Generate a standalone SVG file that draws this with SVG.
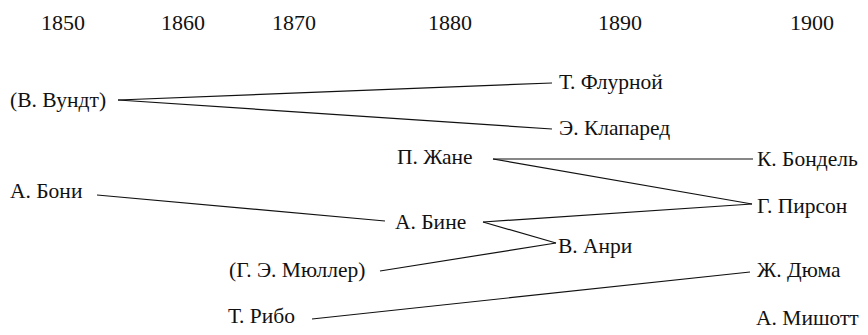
<svg xmlns="http://www.w3.org/2000/svg" width="868" height="335" viewBox="0 0 868 335">
  <style>
    text { font-family: "Liberation Serif", "DejaVu Serif", serif; font-size: 21.5px; fill: #111; }
    .year { text-anchor: middle; font-size: 22px; }
    .link { stroke: #111; stroke-width: 1.2; fill: none; }
  </style>
  <rect width="868" height="335" fill="#fff"/>

  <!-- timeline of years -->
  <g id="years">
    <text class="year" x="63" y="30">1850</text>
    <text class="year" x="183" y="30">1860</text>
    <text class="year" x="294" y="30">1870</text>
    <text class="year" x="450" y="30">1880</text>
    <text class="year" x="620" y="30">1890</text>
    <text class="year" x="812" y="30">1900</text>
  </g>

  <!-- connectors between people -->
  <g id="connectors">
    <line class="link" x1="118" y1="100" x2="552" y2="83"/>
    <line class="link" x1="118" y1="100" x2="552" y2="129"/>
    <line class="link" x1="493" y1="159" x2="753" y2="159"/>
    <line class="link" x1="493" y1="159" x2="752" y2="204"/>
    <line class="link" x1="97" y1="195" x2="385" y2="221"/>
    <line class="link" x1="483" y1="222" x2="752" y2="204"/>
    <line class="link" x1="483" y1="222" x2="556" y2="243"/>
    <line class="link" x1="380" y1="271" x2="556" y2="243"/>
    <line class="link" x1="312" y1="319" x2="750" y2="272"/>
  </g>

  <!-- people -->
  <g id="wundt"><text x="10" y="107">(В. Вундт)</text></g>
  <g id="flournoy"><text x="559" y="89">Т. Флурной</text></g>
  <g id="claparede"><text x="559" y="135">Э. Клапаред</text></g>
  <g id="janet"><text x="397" y="164">П. Жане</text></g>
  <g id="bondel"><text x="757" y="166">К. Бондель</text></g>
  <g id="beaunis"><text x="10" y="198">А. Бони</text></g>
  <g id="binet"><text x="395" y="229">А. Бине</text></g>
  <g id="pearson"><text x="757" y="213">Г. Пирсон</text></g>
  <g id="henri"><text x="558" y="253">В. Анри</text></g>
  <g id="muller"><text x="229" y="277">(Г. Э. Мюллер)</text></g>
  <g id="dumas"><text x="757" y="277">Ж. Дюма</text></g>
  <g id="ribot"><text x="228" y="323">Т. Рибо</text></g>
  <g id="michotte"><text x="756" y="325">А. Мишотт</text></g>
</svg>
